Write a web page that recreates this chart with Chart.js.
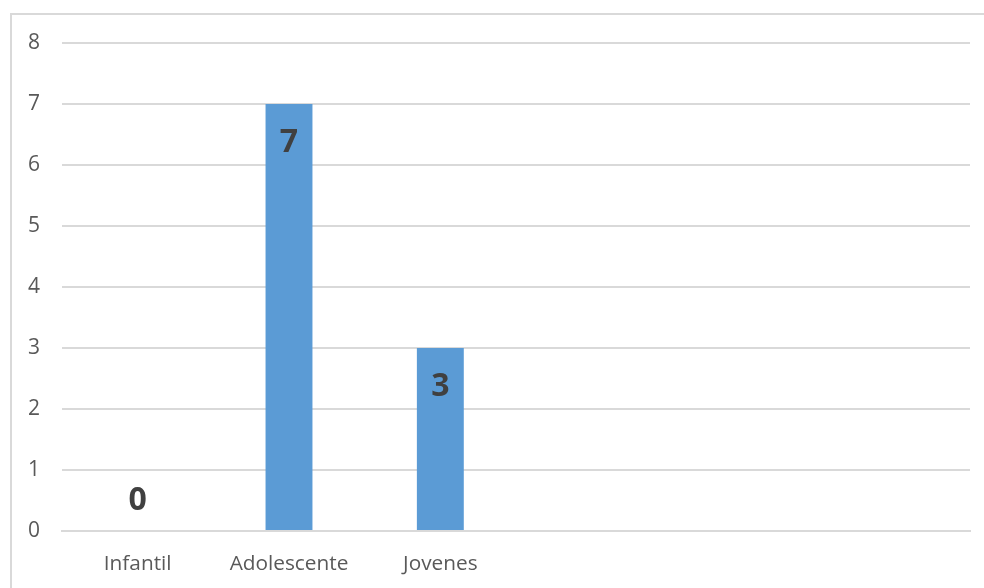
<!DOCTYPE html>
<html>
<head>
<meta charset="utf-8">
<script src="https://cdn.jsdelivr.net/npm/chart.js"></script>
<style>
  html, body { margin: 0; padding: 0; background: #fff; overflow: hidden; }
  #frame { position: absolute; left: 10px; top: 13px; width: 1000px; height: 600px; border: 2px solid #d9d9d9; }
  #box { position: absolute; left: 0; top: 0; width: 984px; height: 588px; }
</style>
</head>
<body>
<div id="frame"></div>
<div id="box"><canvas id="chart"></canvas></div>
<script>
// categorias y valores
const categories = ['Infantil', 'Adolescente', 'Jovenes', '', '', ''];
const values = [0, 7, 3, null, null, null];
const yTicks = [0, 1, 2, 3, 4, 5, 6, 7, 8];

// etiquetas de valor dentro del extremo de la barra
const valueLabels = {
    id: 'valueLabels',
    afterDatasetsDraw(chart) {
        const ctx = chart.ctx;
        const meta = chart.getDatasetMeta(0);
        ctx.save();
        ctx.font = 'bold 32px "Open Sans"';
        ctx.fillStyle = '#404040';
        ctx.textAlign = 'center';
        ctx.textBaseline = 'middle';
        meta.data.forEach((bar, i) => {
            const v = values[i];
            if (v === null) return;
            const y = v === 0 ? bar.y - 30 : bar.y + 39;
            ctx.fillText(String(v), bar.x, y);
        });
        ctx.restore();
    }
};

const ctx = document.getElementById('chart').getContext('2d');
new Chart(ctx, {
    type: 'bar',
    data: {
        labels: categories,
        datasets: [{
            data: values,
            backgroundColor: '#5b9bd5',
            barPercentage: 0.31,
            categoryPercentage: 1
        }]
    },
    options: {
        responsive: true,
        maintainAspectRatio: false,
        animation: false,
        layout: { padding: { top: 43, right: 14, bottom: 0, left: 0 } },
        plugins: { legend: { display: false }, tooltip: { enabled: false } },
        scales: {
            x: {
                grid: { display: false, drawTicks: false },
                border: { display: true, color: '#d9d9d9', width: 2 },
                ticks: { color: '#595959', font: { family: 'Open Sans', size: 20.8 }, padding: 21, maxRotation: 0 },
                afterFit: s => { s.height = 57; }
            },
            y: {
                min: 0,
                max: 8,
                afterBuildTicks: s => { s.ticks = yTicks.map(v => ({ value: v })); },
                grid: { color: '#d9d9d9', lineWidth: 2, drawTicks: false },
                border: { display: false },
                ticks: { color: '#595959', font: { family: 'Open Sans', size: 21 }, padding: 22 },
                afterFit: s => { s.width = 62; }
            }
        }
    },
    plugins: [valueLabels]
});
</script>
</body>
</html>
